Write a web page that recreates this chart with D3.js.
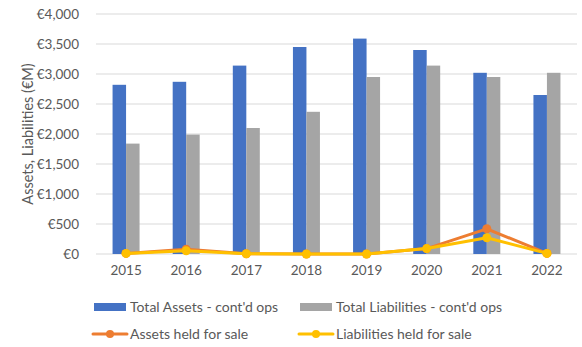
<!DOCTYPE html>
<html lang="en">
<head>
<meta charset="UTF-8">
<title>Assets and Liabilities</title>
<script src="https://d3js.org/d3.v7.min.js"></script>
<style>
  body { margin: 0; background: #fff; }
  svg text { font-family: "Lato", "Liberation Sans", sans-serif; fill: #595959; }
</style>
</head>
<body>
<svg id="chart" width="582" height="347"></svg>
<script>
  // data (€M)
  const years = ["2015", "2016", "2017", "2018", "2019", "2020", "2021", "2022"];
  const totalAssets = [2820, 2870, 3140, 3450, 3590, 3400, 3020, 2650];
  const totalLiabilities = [1840, 1990, 2100, 2370, 2950, 3140, 2950, 3020];
  const assetsHeld = [10, 80, 5, 0, 0, 90, 420, 10];
  const liabilitiesHeld = [10, 55, 5, 0, 0, 90, 270, 10];
  const yTicks = [0, 500, 1000, 1500, 2000, 2500, 3000, 3500, 4000];

  const BLUE = "#4472C4", GREY = "#A5A5A5", ORANGE = "#ED7D31", YELLOW = "#FFC000";

  const svg = d3.select("#chart");
  const margin = { top: 14, left: 96, right: 5, bottom: 93 };
  const width = 582 - margin.left - margin.right,
        height = 347 - margin.top - margin.bottom;

  const x = d3.scaleBand().domain(years).range([0, width]);
  const y = d3.scaleLinear().domain([0, 4000]).range([height, 0]);
  const barW = 13.5;

  const g = svg.append("g").attr("transform", `translate(${margin.left},${margin.top})`);

  // gridlines
  g.selectAll(".grid").data(yTicks).join("line")
    .attr("x1", 0).attr("x2", width)
    .attr("y1", d => y(d)).attr("y2", d => y(d))
    .attr("stroke", "#d9d9d9").attr("stroke-width", 1);

  // y axis labels
  const fmt = d => "€" + d3.format(",")(d);
  g.append("g")
    .attr("transform", "translate(-14,0)")
    .call(d3.axisLeft(y).tickValues(yTicks).tickSize(0).tickFormat(fmt))
    .call(a => a.select(".domain").remove())
    .selectAll("text").attr("font-size", 13.5).attr("font-family", null).attr("fill", null);

  // x axis labels
  g.append("g")
    .attr("transform", `translate(0,${height + 8})`)
    .call(d3.axisBottom(x).tickSize(0))
    .call(a => a.select(".domain").remove())
    .selectAll("text").attr("font-size", 13.5).attr("font-family", null).attr("fill", null);

  // bars
  g.selectAll(".bar-a").data(years).join("rect")
    .attr("x", d => x(d) + x.bandwidth() / 2 - barW)
    .attr("width", barW)
    .attr("y", (d, i) => y(totalAssets[i]))
    .attr("height", (d, i) => y(0) - y(totalAssets[i]))
    .attr("fill", BLUE);
  g.selectAll(".bar-l").data(years).join("rect")
    .attr("x", d => x(d) + x.bandwidth() / 2)
    .attr("width", barW)
    .attr("y", (d, i) => y(totalLiabilities[i]))
    .attr("height", (d, i) => y(0) - y(totalLiabilities[i]))
    .attr("fill", GREY);

  // lines with markers
  [[assetsHeld, ORANGE], [liabilitiesHeld, YELLOW]].forEach(([vals, col]) => {
    const pts = years.map((yr, i) => [x(yr) + x.bandwidth() / 2, y(vals[i])]);
    g.append("path").datum(pts)
      .attr("d", d3.line())
      .attr("fill", "none").attr("stroke", col).attr("stroke-width", 3)
      .attr("stroke-linejoin", "round").attr("stroke-linecap", "round");
    g.selectAll(null).data(pts).join("circle")
      .attr("cx", d => d[0]).attr("cy", d => d[1]).attr("r", 4.5)
      .attr("fill", col);
  });

  // y axis title
  svg.append("text")
    .attr("transform", `translate(33,${margin.top + height / 2}) rotate(-90)`)
    .attr("text-anchor", "middle")
    .attr("font-size", 14.5)
    .text("Assets, Liabilities (€M)");

  // legend
  const legend = svg.append("g");
  const items = [
    { label: "Total Assets - cont'd ops", col: BLUE, type: "bar", lx: 94, ly: 307 },
    { label: "Total Liabilities - cont'd ops", col: GREY, type: "bar", lx: 300, ly: 307 },
    { label: "Assets held for sale", col: ORANGE, type: "line", lx: 94, ly: 334 },
    { label: "Liabilities held for sale", col: YELLOW, type: "line", lx: 300, ly: 334 }
  ];
  items.forEach(it => {
    const li = legend.append("g").attr("transform", `translate(${it.lx},${it.ly})`);
    if (it.type === "bar") {
      li.append("rect").attr("x", 0).attr("y", -4).attr("width", 32).attr("height", 8).attr("fill", it.col);
    } else {
      li.append("line").attr("x1", -1).attr("x2", 33).attr("y1", 0).attr("y2", 0)
        .attr("stroke", it.col).attr("stroke-width", 3).attr("stroke-linecap", "round");
      li.append("circle").attr("cx", 16).attr("cy", 0).attr("r", 4).attr("fill", it.col);
    }
    li.append("text").attr("x", 36).attr("y", 0).attr("dy", "0.35em")
      .attr("font-size", 14).text(it.label);
  });
</script>
</body>
</html>
